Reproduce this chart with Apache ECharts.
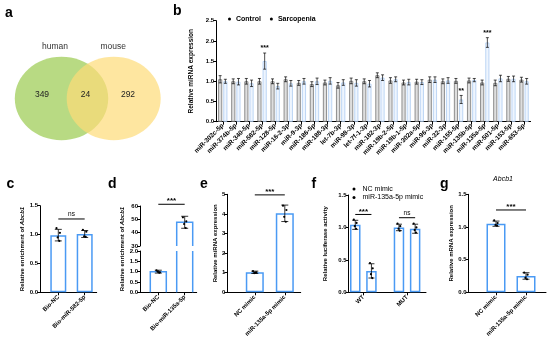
<!DOCTYPE html>
<html><head><meta charset="utf-8">
<script src="https://cdn.jsdelivr.net/npm/echarts@6/dist/echarts.min.js"></script>
<style>html,body{margin:0;padding:0;background:#fff}#c{width:550px;height:349px}</style>
</head><body><div id="c"></div>
<script>
// ================= DATA =================
// (a) Venn
const vennSets = ['human', 'mouse'];
const vennCounts = [349, 24, 292]; // human only, shared, mouse only

// (b) miRNA screen
const bCategories = ['miR-302c-5p','miR-374b-5p','miR-340-5p','miR-582-5p','miR-128-5p','miR-16-2-3p','miR-9-3p','miR-186-5p','miR-188-3p','let-7b-3p','miR-98-3p','let-7f-1-3p','miR-182-3p','miR-19b-2-5p','miR-19b-1-5p','miR-302a-5p','miR-96-3p','miR-32-3p','miR-155-5p','miR-135b-5p','miR-135a-5p','miR-501-5p','miR-153-5p','miR-653-5p'];
const bSeriesNames = ['Control', 'Sarcopenia'];
const bControl    = [1.05,1.00,1.00,1.00,1.00,1.05,0.96,0.93,0.97,0.90,1.01,1.00,1.15,1.02,0.97,0.99,1.04,1.00,1.01,1.02,0.97,0.96,1.06,1.04];
const bSarcopenia = [1.00,0.99,0.95,1.50,0.88,0.95,1.00,1.00,1.01,0.97,0.96,0.94,1.09,1.05,0.98,0.98,1.04,1.02,0.55,1.03,1.96,1.07,1.06,1.00];
const bControlSD    = [0.09,0.06,0.07,0.07,0.06,0.06,0.06,0.06,0.06,0.07,0.07,0.06,0.06,0.07,0.06,0.06,0.07,0.06,0.06,0.06,0.06,0.07,0.06,0.06];
const bSarcopeniaSD = [0.05,0.08,0.08,0.20,0.07,0.07,0.07,0.08,0.08,0.07,0.08,0.08,0.07,0.06,0.07,0.06,0.07,0.07,0.10,0.04,0.12,0.08,0.07,0.07];
const bSig = ['','','','***','','','','','','','','','','','','','','','**','','***','','',''];
const bTicks = [0, 0.5, 1.0, 1.5, 2.0, 2.5];

// (c) Abcb1 enrichment, miR-582-5p
const cCategories = ['Bio-NC', 'Bio-miR-582-5p'];
const cMeans = [0.99, 1.01];
const cSD = [0.10, 0.06];
const cDots = [[1.11, 1.03, 0.95, 0.89], [1.08, 1.05, 0.97, 0.96]];
const cSig = [{ from: [0, 0], to: [1, 0], level: 1.27, label: 'ns' }];
const cTicks = [0, 0.5, 1.0, 1.5];

// (d) Abcb1 enrichment, miR-135a-5p (broken axis)
const dCategories = ['Bio-NC', 'Bio-miR-135a-5p'];
const dMeans = [1.0, 47.8];
const dSD = [0.07, 4.5];
const dDots = [[1.06, 0.97, 1.0, 0.95], [51.5, 48.5, 46.5, 43.5]];
const dSig = [{ from: [0, 0], to: [1, 0], level: 61.3, label: '***' }];
const dTicksLow = [0, 0.5, 1.0, 1.5, 2.0];
const dTicksHigh = [30, 40, 50, 60];

// (e) miRNA expression after mimic
const eCategories = ['NC mimic', 'miR-135a-5p mimic'];
const eMeans = [1.02, 4.03];
const eSD = [0.06, 0.42];
const eDots = [[1.08, 1.02, 0.98, 1.0], [4.42, 4.2, 3.85, 3.6]];
const eSig = [{ from: [0, 0], to: [1, 0], level: 4.97, label: '***' }];
const eTicks = [0, 1, 2, 3, 4, 5];

// (f) luciferase activity
const fCategories = ['WT', 'MUT'];
const fSeriesNames = ['NC mimic', 'miR-135a-5p mimic'];
const fNC = [1.04, 1.00];
const fMimic = [0.33, 0.98];
const fNCSD = [0.07, 0.05];
const fMimicSD = [0.11, 0.07];
const fNCDots = [[1.12, 1.07, 1.02, 0.98], [1.06, 1.02, 0.98, 0.95]];
const fMimicDots = [[0.45, 0.37, 0.28, 0.22], [1.06, 1.0, 0.96, 0.92]];
const fSig = [{ from: [0, 0], to: [0, 1], level: 1.2, label: '***' }, { from: [1, 0], to: [1, 1], level: 1.15, label: 'ns' }];
const fTicks = [0, 0.5, 1.0, 1.5];

// (g) Abcb1 mRNA
const gCategories = ['NC mimic', 'miR-135a-5p mimic'];
const gMeans = [1.05, 0.25];
const gSD = [0.04, 0.05];
const gDots = [[1.1, 1.06, 1.03, 1.02], [0.3, 0.27, 0.22, 0.2]];
const gSig = [{ from: [0, 0], to: [1, 0], level: 1.26, label: '***' }];
const gTicks = [0, 0.5, 1.0, 1.5];

// ================= STYLE / BUILD =================
const FONT = '"Liberation Sans", Arial, Helvetica, sans-serif';
const BLUE = '#4a9af4';
const JIT = [-1.8, 1.6, -0.6, 1.0, 0.2];
const grid = [], xAxis = [], yAxis = [], series = [];

function addGrid(g) { grid.push(Object.assign({ containLabel: false }, g)); return grid.length - 1; }

function frame(o) {
  const gi = addGrid({ left: o.left, top: o.top, width: o.width, height: o.height });
  xAxis.push({ gridIndex: gi, type: 'value', min: 0, max: 1,
    axisLine: { show: o.showX !== false, onZero: false, lineStyle: { color: '#000', width: 1 } },
    axisTick: { show: false }, axisLabel: { show: false }, splitLine: { show: false } });
  const t = o.ticks;
  yAxis.push({ gridIndex: gi, type: 'value', min: t[0], max: t[t.length - 1], interval: t[1] - t[0],
    axisLine: { show: true, onZero: false, lineStyle: { color: '#000', width: 1 } },
    axisTick: { show: true, length: 3, lineStyle: { color: '#000', width: 1 } },
    axisLabel: { fontSize: o.fs || 6, fontWeight: 'bold', color: '#000', margin: 2, fontFamily: FONT, formatter: o.fmt },
    splitLine: { show: false },
    name: o.name || '', nameLocation: 'middle', nameGap: o.nameGap || 14, nameRotate: 90,
    nameTextStyle: { fontSize: o.nfs || 6, fontWeight: 'bold', color: '#000', fontFamily: FONT,
      rich: { i: { fontStyle: 'italic', fontWeight: 'bold', fontSize: o.nfs || 6, fontFamily: FONT, color: '#000' } } } });
  return gi;
}

function barsGrid(o) {
  const gi = addGrid({ left: o.left, top: o.top, width: o.width, height: o.height });
  xAxis.push({ gridIndex: gi, type: 'category', data: o.cats, show: o.showX !== false,
    axisLine: { show: false }, axisTick: { show: true, alignWithLabel: true, length: 3, lineStyle: { color: '#000', width: 1 } },
    axisLabel: { interval: 0, rotate: 45, fontSize: o.fs || 6, fontWeight: 'bold', color: '#000', margin: 4, fontFamily: FONT },
    splitLine: { show: false } });
  const t = o.ticks;
  yAxis.push({ gridIndex: gi, type: 'value', min: t[0], max: t[t.length - 1], interval: t[1] - t[0], show: false });
  return gi;
}

function barSeries(gi, data, opt) {
  return Object.assign({ type: 'bar', xAxisIndex: gi, yAxisIndex: gi, data: data, silent: true,
    itemStyle: { color: '#fff', borderColor: BLUE, borderWidth: 1.5 } }, opt);
}

// open-ended bars for the broken axis: sides are cut at the grid edge, no closing line at the break
function brokenBarSeries(gi, means, bw) {
  return { type: 'custom', xAxisIndex: gi, yAxisIndex: gi, silent: true, z: 2,
    data: means.map((m, i) => [i, m]),
    renderItem: (params, api) => {
      const cs = params.coordSys;
      const p = api.coord([api.value(0), api.value(1)]);
      const bottom = cs.y + cs.height;
      if (p[1] > bottom) return null;
      const x0 = p[0] - bw / 2, x1 = p[0] + bw / 2;
      const st = { stroke: BLUE, lineWidth: 1.5, fill: null };
      if (p[1] >= cs.y) {
        return { type: 'polyline', shape: { points: [[x0, bottom], [x0, p[1]], [x1, p[1]], [x1, bottom]] }, style: st };
      }
      return { type: 'group', children: [
        { type: 'line', shape: { x1: x0, y1: bottom, x2: x0, y2: cs.y }, style: st },
        { type: 'line', shape: { x1: x1, y1: bottom, x2: x1, y2: cs.y }, style: st }
      ] };
    } };
}

function errSeries(gi, means, sds, dots, offFrac, opt) {
  const only = opt.only;
  const data = [];
  means.forEach((m, i) => { if (!only || only.includes(i)) data.push([i, m, sds[i]]); });
  return { type: 'custom', xAxisIndex: gi, yAxisIndex: gi, silent: true, z: 5, data: data,
    renderItem: (params, api) => {
      const i = api.value(0), m = api.value(1), s = api.value(2);
      const band = api.size([1, 0])[0];
      const cx = api.coord([i, m])[0] + offFrac * band;
      const yT = api.coord([i, m + s])[1], yB = api.coord([i, m - s])[1];
      const cap = opt.cap, lw = opt.lw || 0.8;
      const ls = { stroke: '#000', lineWidth: lw };
      const ch = [
        { type: 'line', shape: { x1: cx, y1: yT, x2: cx, y2: yB }, style: ls },
        { type: 'line', shape: { x1: cx - cap, y1: yT, x2: cx + cap, y2: yT }, style: ls },
        { type: 'line', shape: { x1: cx - cap, y1: yB, x2: cx + cap, y2: yB }, style: ls }
      ];
      if (dots && dots[i]) dots[i].forEach((v, j) => {
        const y = api.coord([i, v])[1];
        ch.push({ type: 'circle', shape: { cx: cx + JIT[j % JIT.length] * opt.jit, cy: y, r: opt.r }, style: { fill: '#000' } });
      });
      return { type: 'group', children: ch };
    } };
}

function bracketSeries(gi, list, offs) {
  return { type: 'custom', xAxisIndex: gi, yAxisIndex: gi, silent: true, z: 6,
    data: list.map(b => [b.from[0], b.level]),
    renderItem: (params, api) => {
      const b = list[params.dataIndex];
      const band = api.size([1, 0])[0];
      const p0 = api.coord([b.from[0], b.level]);
      const p1 = api.coord([b.to[0], b.level]);
      const x0 = p0[0] + offs[b.from[1]] * band, x1 = p1[0] + offs[b.to[1]] * band;
      const y = p0[1];
      const isStar = b.label.indexOf('*') >= 0;
      return { type: 'group', children: [
        { type: 'line', shape: { x1: x0, y1: y, x2: x1, y2: y }, style: { stroke: '#000', lineWidth: 1 } },
        { type: 'text', style: { text: b.label, x: (x0 + x1) / 2, y: y - (isStar ? -1 : 1), align: 'center', verticalAlign: 'bottom',
          fill: '#000', fontSize: isStar ? 8 : 6.5, fontWeight: isStar ? 'bold' : 'normal', fontFamily: FONT } }
      ] };
    } };
}

const f1 = v => v.toFixed(1);
const f0 = v => String(v);

// ---- (b) ----
const gB = addGrid({ left: 216.2, top: 20.7, width: 314.4, height: 101 });
xAxis.push({ gridIndex: gB, type: 'category', data: bCategories,
  axisLine: { show: true, lineStyle: { color: '#000', width: 1 } },
  axisTick: { show: true, alignWithLabel: true, length: 3, lineStyle: { color: '#000', width: 1 } },
  axisLabel: { interval: 0, rotate: 45, fontSize: 6.5, fontWeight: 'bold', color: '#000', margin: 3, fontFamily: FONT } });
yAxis.push({ gridIndex: gB, type: 'value', min: bTicks[0], max: bTicks[bTicks.length - 1], interval: bTicks[1] - bTicks[0],
  axisLine: { show: true, lineStyle: { color: '#000', width: 1 } },
  axisTick: { show: true, length: 3, lineStyle: { color: '#000', width: 1 } },
  axisLabel: { fontSize: 6, fontWeight: 'bold', color: '#000', margin: 2, fontFamily: FONT, formatter: f1 },
  splitLine: { show: false },
  name: 'Relative miRNA expression', nameLocation: 'middle', nameGap: 16, nameRotate: 90,
  nameTextStyle: { fontSize: 6.5, fontWeight: 'bold', color: '#000', fontFamily: FONT } });
const B_OFF = [-0.2, 0.2];
series.push(barSeries(gB, bControl, { name: bSeriesNames[0], barWidth: 4, barGap: '30%',
  itemStyle: { color: '#dedede', borderColor: '#777777', borderWidth: 0.8 } }));
series.push(barSeries(gB, bSarcopenia, { name: bSeriesNames[1], barWidth: 4, barGap: '30%',
  itemStyle: { color: '#eef5fe', borderColor: '#aecdf2', borderWidth: 0.8 } }));
series.push(errSeries(gB, bControl, bControlSD, null, B_OFF[0], { cap: 1.5, lw: 0.7 }));
series.push(errSeries(gB, bSarcopenia, bSarcopeniaSD, null, B_OFF[1], { cap: 1.5, lw: 0.7 }));
series.push({ type: 'custom', xAxisIndex: gB, yAxisIndex: gB, silent: true, z: 6,
  data: bSarcopenia.map((m, i) => [i, m + bSarcopeniaSD[i]]).filter((d, i) => bSig[i]),
  renderItem: (params, api) => {
    const i = api.value(0);
    const p = api.coord([i, api.value(1)]);
    const band = api.size([1, 0])[0];
    return { type: 'text', style: { text: bSig[i], x: p[0] + B_OFF[1] * band, y: p[1] - 1, align: 'center', verticalAlign: 'bottom',
      fill: '#000', fontSize: 7, fontWeight: 'bold', fontFamily: FONT } };
  } });

// ---- (c) ----
frame({ left: 40, top: 205.7, width: 56.7, height: 86.6, ticks: cTicks, fmt: f1, name: 'Relative enrichment of {i|Abcb1}', nameGap: 14 });
const gC = barsGrid({ left: 45.1, top: 205.7, width: 52.8, height: 86.6, ticks: cTicks, cats: cCategories });
series.push(barSeries(gC, cMeans, { barWidth: 16 }));
series.push(errSeries(gC, cMeans, cSD, cDots, 0, { cap: 3.5, r: 1.1, jit: 1 }));
series.push(bracketSeries(gC, cSig, [0]));

// ---- (d) broken axis ----
frame({ left: 140, top: 251, width: 56.7, height: 41.3, ticks: dTicksLow, fmt: f1, name: '', nameGap: 14 });
frame({ left: 140, top: 206, width: 56.7, height: 40, ticks: dTicksHigh, fmt: f0, showX: false });
const gDl = barsGrid({ left: 145.1, top: 251, width: 52.8, height: 41.3, ticks: dTicksLow, cats: dCategories });
const gDh = barsGrid({ left: 145.1, top: 206, width: 52.8, height: 40, ticks: dTicksHigh, cats: dCategories, showX: false });
series.push(brokenBarSeries(gDl, dMeans, 16));
series.push(brokenBarSeries(gDh, dMeans, 16));
series.push(errSeries(gDl, dMeans, dSD, dDots, 0, { cap: 3.5, r: 1.1, jit: 1, only: [0] }));
series.push(errSeries(gDh, dMeans, dSD, dDots, 0, { cap: 3.5, r: 1.1, jit: 1, only: [1] }));
series.push(bracketSeries(gDh, dSig, [0]));

// ---- (e) ----
frame({ left: 227.3, top: 194.3, width: 73.4, height: 98, ticks: eTicks, fmt: f0, name: 'Relative miRNA expression', nameGap: 5 });
const gE = barsGrid({ left: 239.8, top: 194.3, width: 60, height: 98, ticks: eTicks, cats: eCategories });
series.push(barSeries(gE, eMeans, { barWidth: 18 }));
series.push(errSeries(gE, eMeans, eSD, eDots, 0, { cap: 3.5, r: 1.1, jit: 1 }));
series.push(bracketSeries(gE, eSig, [0]));

// ---- (f) ----
frame({ left: 348.7, top: 195, width: 77.3, height: 97.3, ticks: fTicks, fmt: f1, name: 'Relative luciferase activity', nameGap: 20 });
const gF = barsGrid({ left: 341.5, top: 195, width: 87.4, height: 97.3, ticks: fTicks, cats: fCategories });
const F_OFF = [-0.185, 0.185];
series.push(barSeries(gF, fNC, { name: fSeriesNames[0], barWidth: 10.5, barGap: '54%' }));
series.push(barSeries(gF, fMimic, { name: fSeriesNames[1], barWidth: 10.5, barGap: '54%' }));
series.push(errSeries(gF, fNC, fNCSD, fNCDots, F_OFF[0], { cap: 3, r: 1.1, jit: 0.8 }));
series.push(errSeries(gF, fMimic, fMimicSD, fMimicDots, F_OFF[1], { cap: 3, r: 1.1, jit: 0.8 }));
series.push(bracketSeries(gF, fSig, F_OFF));

// ---- (g) ----
frame({ left: 468.7, top: 194.3, width: 77.3, height: 98, ticks: gTicks, fmt: f1, name: 'Relative mRNA expression', nameGap: 12 });
const gG = barsGrid({ left: 481, top: 194.3, width: 60, height: 98, ticks: gTicks, cats: gCategories });
series.push(barSeries(gG, gMeans, { barWidth: 19 }));
series.push(errSeries(gG, gMeans, gSD, gDots, 0, { cap: 3.5, r: 1.1, jit: 1 }));
series.push(bracketSeries(gG, gSig, [0]));

// ---- graphics: panel letters, venn, misc text ----
function letter(t, x, yb) {
  return { type: 'text', x: x, y: yb, style: { text: t, fill: '#000', fontSize: 14, fontWeight: 'bold', fontFamily: FONT, align: 'left', verticalAlign: 'bottom' } };
}
const vennText = (t, x, y, c) => ({ type: 'text', x: x, y: y, z: 3, style: { text: t, fill: c, fontSize: 8.5, fontFamily: FONT, align: 'center', verticalAlign: 'middle' } });
const graphic = [
  { type: 'ellipse', shape: { cx: 61.5, cy: 98.5, rx: 46.7, ry: 41.7 }, style: { fill: 'rgba(160,205,90,0.75)' }, z: 1 },
  { type: 'ellipse', shape: { cx: 113.7, cy: 98.5, rx: 47, ry: 41.7 }, style: { fill: 'rgba(253,220,120,0.7)' }, z: 2 },
  vennText(vennSets[0], 55, 47, '#333'),
  vennText(vennSets[1], 113.3, 47, '#333'),
  vennText(String(vennCounts[0]), 42, 94.5, '#222'),
  vennText(String(vennCounts[1]), 85.5, 94.5, '#222'),
  vennText(String(vennCounts[2]), 128, 94.5, '#222'),
  { type: 'text', x: 503, y: 178.7, z: 3, style: { text: 'Abcb1', fill: '#000', fontSize: 7, fontStyle: 'italic', fontFamily: FONT, align: 'center', verticalAlign: 'middle' } },
  // d y-axis title spans both halves of the broken axis
  { type: 'text', x: 122.8, y: 249, rotation: Math.PI / 2, z: 3,
    style: { text: 'Relative enrichment of {i|Abcb1}', fill: '#000', fontSize: 6, fontWeight: 'bold', fontFamily: FONT, align: 'center', verticalAlign: 'middle',
      rich: { i: { fontStyle: 'italic', fontWeight: 'bold', fontSize: 6, fontFamily: FONT, fill: '#000' } } } },
  letter('a', 5, 20), letter('b', 173, 18), letter('c', 6.5, 191.5), letter('d', 108, 191.5),
  letter('e', 200, 191.5), letter('f', 311.5, 191.5), letter('g', 440, 191.5)
];

const option = {
  animation: false,
  textStyle: { fontFamily: FONT },
  grid: grid, xAxis: xAxis, yAxis: yAxis, series: series, graphic: graphic,
  legend: [
    { left: 223, top: 10.5, itemWidth: 3, itemHeight: 3, itemGap: 9, selectedMode: false, icon: 'circle',
      textStyle: { fontSize: 7, fontWeight: 'bold', color: '#000', fontFamily: FONT },
      data: bSeriesNames.map(n => ({ name: n, itemStyle: { color: '#000', borderWidth: 0 } })) },
    { left: 347.5, top: 180.5, orient: 'vertical', itemWidth: 3, itemHeight: 3, itemGap: 1.5, selectedMode: false, icon: 'circle',
      textStyle: { fontSize: 7, color: '#000', fontFamily: FONT, padding: [0, 0, 0, 2] },
      data: fSeriesNames.map(n => ({ name: n, itemStyle: { color: '#000', borderWidth: 0 } })) }
  ]
};
const chart = echarts.init(document.getElementById('c'));
chart.setOption(option);
</script></body></html>
